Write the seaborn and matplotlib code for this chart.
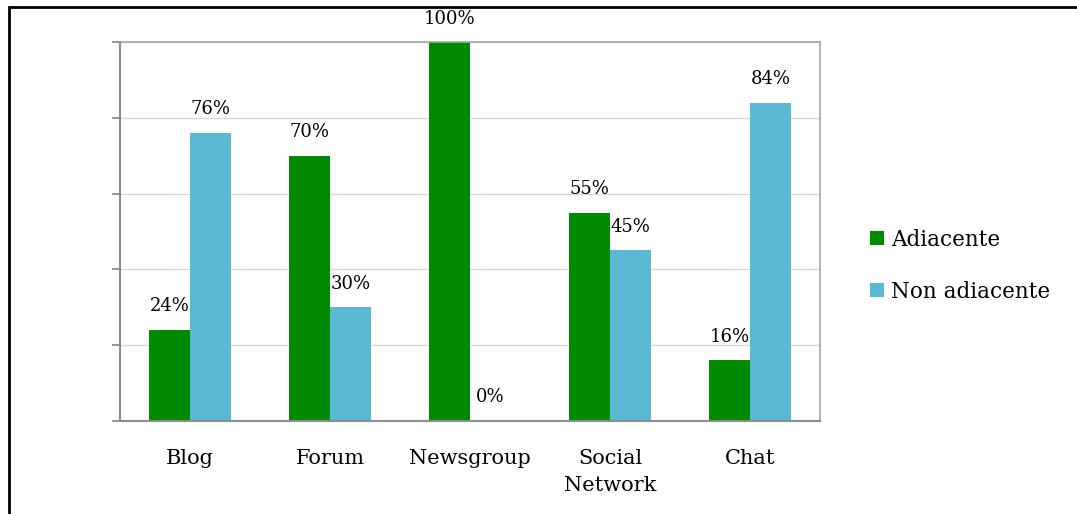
import matplotlib
matplotlib.use("Agg")
import matplotlib.pyplot as plt
import seaborn as sns
import pandas as pd
from matplotlib.patches import Rectangle

categories = ["Blog", "Forum", "Newsgroup", "Social\nNetwork", "Chat"]
adiacente = [24, 70, 100, 55, 16]
non_adiacente = [76, 30, 0, 45, 84]
series_names = ["Adiacente", "Non adiacente"]
colors = ["#008A00", "#5BB8D2"]

df = pd.DataFrame({
    "categoria": categories * 2,
    "valore": adiacente + non_adiacente,
    "serie": [series_names[0]] * len(categories) + [series_names[1]] * len(categories),
})

sns.set_theme(style="white")
plt.rcParams["font.family"] = ["DejaVu Serif"]
plt.rcParams["text.color"] = "black"

fig = plt.figure(figsize=(10.77, 5.14), dpi=100)
ax = fig.add_axes([0.1114, 0.181, 0.650, 0.737])

sns.barplot(data=df, x="categoria", y="valore", hue="serie", order=categories,
            hue_order=series_names, palette=colors, width=0.58, gap=0,
            saturation=1, edgecolor="none", ax=ax, legend=False)

ax.set_ylim(0, 100)
ax.set_xlim(-0.5, len(categories) - 0.5)
ax.set_yticks(range(0, 101, 20))
ax.set_yticklabels([])
ax.yaxis.grid(True, color="#d9d9d9", linewidth=1)
ax.set_axisbelow(True)
ax.set_xlabel("")
ax.set_ylabel("")

# category labels centred, tick marks between categories
ax.tick_params(axis="x", which="major", length=0, labelsize=15, pad=20, colors="black")
ax.set_xticks([i - 0.5 for i in range(len(categories) + 1)], minor=True)
ax.tick_params(axis="x", which="minor", length=7, width=1.3, color="#8c8c8c", direction="out")
ax.tick_params(axis="y", which="major", length=6, width=1.3, color="#8c8c8c", direction="out", left=True)
for lbl in ax.get_xticklabels():
    lbl.set_linespacing(1.55)

for side in ["left", "bottom"]:
    ax.spines[side].set_color("#8c8c8c")
    ax.spines[side].set_linewidth(1.5)
for side in ["top", "right"]:
    ax.spines[side].set_color("#a6a6a6")
    ax.spines[side].set_linewidth(1.2)

# value labels above each bar
for container in ax.containers:
    for bar in container:
        h = bar.get_height()
        ax.annotate(f"{int(round(h))}%", (bar.get_x() + bar.get_width() / 2, h),
                    xytext=(0, 10.5), textcoords="offset points",
                    ha="center", va="bottom", fontsize=13, color="black",
                    annotation_clip=False)

# legend
handles = [Rectangle((0, 0), 1, 1, facecolor=c, edgecolor="none") for c in colors]
leg = fig.legend(handles, series_names, loc="center left", bbox_to_anchor=(0.790, 0.483),
                 frameon=False, fontsize=15.5, handlelength=0.65, handleheight=0.65,
                 handletextpad=0.3, labelspacing=1.4)
for t in leg.get_texts():
    t.set_color("black")

# outer frame
fig.patches.append(Rectangle((0.0084, -0.1), 1.2, 1.086, transform=fig.transFigure,
                             fill=False, edgecolor="black", linewidth=2))

fig.savefig("out.png", dpi=100, facecolor="white")
